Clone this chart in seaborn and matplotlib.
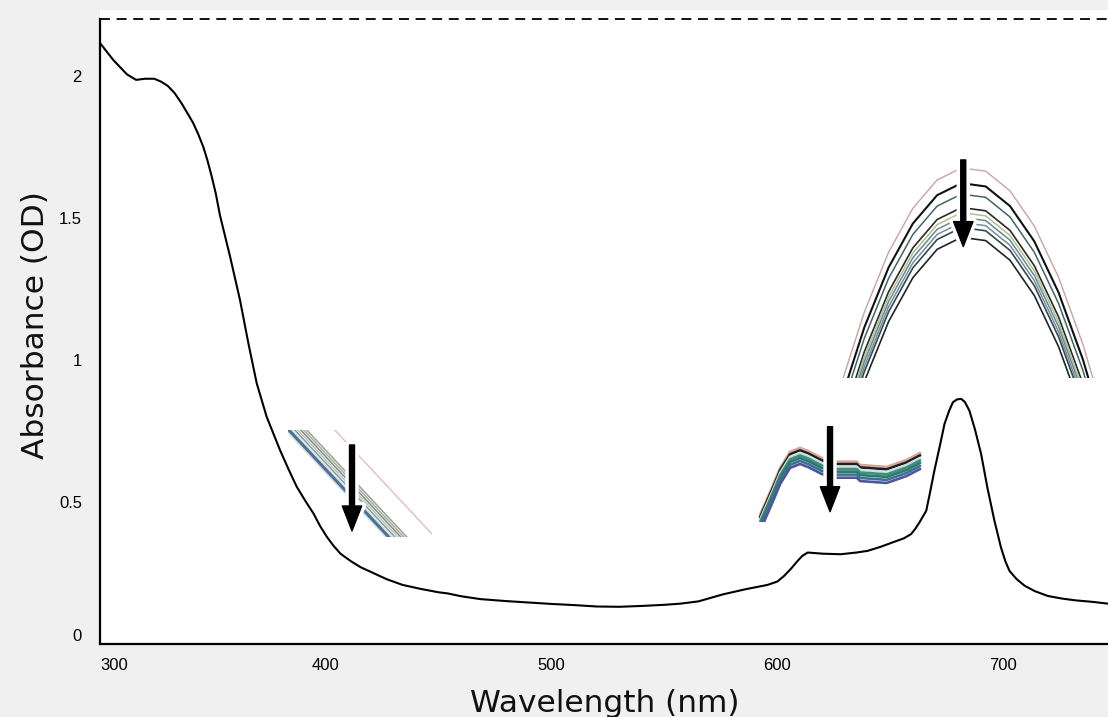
import matplotlib
matplotlib.use("Agg")
import matplotlib.pyplot as plt
import matplotlib.patheffects as pe
import seaborn as sns

# ---------------- data ----------------
wavelength = [300, 303, 306, 309, 312, 316, 320, 324, 327, 330, 333, 336, 339, 341.2, 343.5,
              345.7, 347.5, 349.5, 351.3, 353.1, 357.6, 362, 365.7, 369.4, 373.8, 379.7,
              383.5, 387.1, 391, 394.5, 397.5, 400.4, 403.5, 406.5, 411, 415.5, 421, 427, 434,
              442, 450, 454, 460, 468.5, 480, 490, 500, 510, 520, 530, 540, 550, 557, 565,
              576, 586, 595.6, 600, 603, 606, 609, 611, 613.4, 620, 628, 635, 640, 646,
              651.8, 656, 659.2, 661, 662.9, 665.9, 667.5, 669.5, 672, 674, 676, 677.7,
              679.5, 681.4, 683, 685, 687.5, 690.2, 693, 696.1, 699, 701, 702.8, 706,
              709.5, 714, 719.8, 726, 731.6, 740, 746.4]
absorbance = [2.116, 2.085, 2.055, 2.03, 2.005, 1.986, 1.99, 1.99, 1.98, 1.965, 1.94, 1.905,
              1.865, 1.835, 1.795, 1.751, 1.705, 1.645, 1.585, 1.51, 1.364, 1.211, 1.059,
              0.918, 0.80, 0.683, 0.615, 0.554, 0.503, 0.46, 0.415, 0.378, 0.345, 0.318,
              0.292, 0.27, 0.25, 0.228, 0.208, 0.194, 0.182, 0.178, 0.168,
              0.158, 0.151, 0.146, 0.141, 0.137, 0.132, 0.131, 0.134, 0.138, 0.142, 0.150,
              0.175, 0.193, 0.208, 0.22, 0.24, 0.265, 0.293, 0.31, 0.322, 0.318, 0.316,
              0.322, 0.328, 0.343, 0.36, 0.372, 0.387, 0.405, 0.428, 0.469, 0.53, 0.61,
              0.70, 0.775, 0.82, 0.851, 0.861, 0.863, 0.852, 0.822, 0.755, 0.669, 0.55,
              0.434, 0.34, 0.29, 0.257, 0.228, 0.205, 0.186, 0.169, 0.16, 0.154, 0.148, 0.142]

x_ticks = [300, 400, 500, 600, 700]
x_tick_labels = ["300", "400", "500", "600", "700"]
y_ticks = [0, 0.5, 1, 1.5, 2]
y_tick_labels = ["0", "0.5", "1", "1.5", "2"]
x_label = "Wavelength (nm)"
y_label = "Absorbance (OD)"

# zoomed inset near 410 nm (magnified spectra, decreasing over time)
inset1_wl = [398, 404, 410, 416, 422]
inset1_series = [
    [0.3587, 0.3443, 0.3299, 0.3155, 0.3011],
    [0.3475, 0.3331, 0.3187, 0.3043, 0.2899],
    [0.3463, 0.3319, 0.3175, 0.3031, 0.2887],
    [0.3451, 0.3307, 0.3163, 0.3019, 0.2875],
    [0.3439, 0.3295, 0.3151, 0.3007, 0.2863],
    [0.3427, 0.3283, 0.3139, 0.2995, 0.2851],
    [0.3403, 0.3259, 0.3115, 0.2971, 0.2827],
]

# zoomed inset 595-665 nm
inset2_wl = [592.3, 594.6, 597.7, 601.2, 605.6, 610.0, 613.6, 619.6, 625.5, 635.1, 636.6,
             648.4, 657.2, 663.2]
inset2_series = [
    [0.3055, 0.3148, 0.3273, 0.3421, 0.3546, 0.3577, 0.3553, 0.3499, 0.3470, 0.3470, 0.3444, 0.3429, 0.3483, 0.3538],
    [0.3036, 0.3129, 0.3254, 0.3402, 0.3527, 0.3558, 0.3534, 0.3480, 0.3451, 0.3451, 0.3425, 0.3410, 0.3464, 0.3519],
    [0.3016, 0.3109, 0.3234, 0.3382, 0.3507, 0.3538, 0.3514, 0.3460, 0.3431, 0.3431, 0.3405, 0.3390, 0.3444, 0.3499],
    [0.2997, 0.3090, 0.3215, 0.3363, 0.3488, 0.3519, 0.3495, 0.3441, 0.3412, 0.3412, 0.3386, 0.3371, 0.3425, 0.3480],
    [0.2977, 0.3070, 0.3195, 0.3343, 0.3468, 0.3499, 0.3475, 0.3421, 0.3392, 0.3392, 0.3366, 0.3351, 0.3405, 0.3460],
    [0.2954, 0.3047, 0.3172, 0.3320, 0.3445, 0.3476, 0.3452, 0.3398, 0.3369, 0.3369, 0.3343, 0.3328, 0.3382, 0.3437],
    [0.2930, 0.3023, 0.3148, 0.3296, 0.3421, 0.3452, 0.3428, 0.3374, 0.3345, 0.3345, 0.3319, 0.3304, 0.3358, 0.3413],
]

# zoomed inset around the 681 nm peak
inset3_wl = [656, 660, 664, 668, 672, 676, 680, 684, 688, 692, 696, 700, 704]
inset3_series = [
    [0.7921, 0.8173, 0.8381, 0.8546, 0.8667, 0.8745, 0.8778, 0.8769, 0.8715, 0.8618, 0.8477, 0.8293, 0.8066],
    [0.7879, 0.8131, 0.8339, 0.8504, 0.8625, 0.8703, 0.8736, 0.8727, 0.8673, 0.8576, 0.8435, 0.8251, 0.8024],
    [0.7849, 0.8101, 0.8309, 0.8474, 0.8595, 0.8673, 0.8706, 0.8697, 0.8643, 0.8546, 0.8405, 0.8221, 0.7994],
    [0.7812, 0.8064, 0.8272, 0.8437, 0.8558, 0.8636, 0.8669, 0.8660, 0.8606, 0.8509, 0.8368, 0.8184, 0.7957],
    [0.7798, 0.8050, 0.8258, 0.8423, 0.8544, 0.8622, 0.8655, 0.8646, 0.8592, 0.8495, 0.8354, 0.8170, 0.7943],
    [0.7785, 0.8037, 0.8245, 0.8410, 0.8531, 0.8609, 0.8642, 0.8633, 0.8579, 0.8482, 0.8341, 0.8157, 0.7930],
    [0.7771, 0.8023, 0.8231, 0.8396, 0.8517, 0.8595, 0.8628, 0.8619, 0.8565, 0.8468, 0.8327, 0.8143, 0.7916],
    [0.7757, 0.8009, 0.8217, 0.8382, 0.8503, 0.8581, 0.8614, 0.8605, 0.8551, 0.8454, 0.8313, 0.8129, 0.7902],
    [0.7730, 0.7982, 0.8190, 0.8355, 0.8476, 0.8554, 0.8587, 0.8578, 0.8524, 0.8427, 0.8286, 0.8102, 0.7875],
]

# ---------------- styling ----------------
sns.set_style("white")
plt.rcParams["font.family"] = ["DejaVu Sans"]

FIG_W, FIG_H = 1108, 717
fig = plt.figure(figsize=(FIG_W / 100, FIG_H / 100), dpi=100, facecolor="#f0f0f0")
ax = fig.add_axes([100 / FIG_W, 1 - 644 / FIG_H, 1 - 100 / FIG_W, (644 - 10) / FIG_H])
ax.set_facecolor("white")

sns.lineplot(x=wavelength, y=absorbance, ax=ax, color="black", lw=1.5,
             estimator=None, sort=False, zorder=3)

ax.set_xlim(300, 746.4)
ax.set_ylim(0, 2.232)
ax.axhline(2.2, color="black", lw=1.3, ls=(0, (5.5, 3.7)), zorder=4)

for side in ["top", "right"]:
    ax.spines[side].set_visible(False)
for side in ["left", "bottom"]:
    ax.spines[side].set_linewidth(1.6)
    ax.spines[side].set_color("black")
ax.spines["left"].set_bounds(0, 2.2)

ax.set_xticks(x_ticks)
ax.set_xticklabels(x_tick_labels)
ax.set_yticks(y_ticks)
ax.set_yticklabels(y_tick_labels)
ax.tick_params(axis="x", direction="inout", length=14, width=1.5, pad=3, labelsize=12,
               colors="black")
ax.tick_params(axis="y", direction="inout", length=20, width=1.5, pad=3, labelsize=12,
               colors="black")
tick_family = ["Liberation Sans", "DejaVu Sans"]
for lbl in ax.get_xticklabels() + ax.get_yticklabels():
    lbl.set_fontfamily(tick_family)
ax.get_xticklabels()[0].set_ha("left")
ax.get_yticklabels()[0].set_va("bottom")
ax.set_xlabel("")
ax.set_ylabel("")

fig.text(605 / FIG_W, 5.5 / FIG_H, x_label, ha="center", va="baseline",
         fontsize=22.5, color="#111111")
fig.text(36 / FIG_W, 1 - 325 / FIG_H, y_label, ha="center", va="center", rotation=90,
         fontsize=22.5, color="#111111")

# ---------------- insets (magnified views) ----------------
def make_inset(bounds):
    return ax.inset_axes(bounds, transform=ax.transData)

def finish_inset(ins, xlim, ylim):
    ins.set_xlim(*xlim)
    ins.set_ylim(*ylim)
    ins.axis("off")

# inset 1
ins1 = make_inset([383.26, 0.3768, 63.77, 0.3768])
colors1 = ["#e3bcb8", "#97a29b", "#a9ad94", "#7d8b86", "#b8c4ba", "#8c9a90", "#50708e"]
widths1 = [1.0, 1.1, 1.1, 1.1, 1.1, 1.1, 2.2]
for vals, c, w in zip(inset1_series, colors1, widths1):
    sns.lineplot(x=inset1_wl, y=vals, ax=ins1, color=c, lw=w, estimator=None, sort=False)
ins1.lines[-1].set_path_effects([pe.Stroke(linewidth=4.5, foreground="#cfe3ef"), pe.Normal()])
finish_inset(ins1, (398, 422), (0.300, 0.340))

# inset 2
ins2 = make_inset([591.4, 0.4296, 72.6, 0.2711])
colors2 = ["#d8a49c", "#1e1e1e", "#d3dfd8", "#3f8f88", "#2f7a62", "#3a7494", "#4a57a0"]
for vals, c in zip(inset2_series, colors2):
    sns.lineplot(x=inset2_wl, y=vals, ax=ins2, color=c, lw=1.9, estimator=None, sort=False)
finish_inset(ins2, (591.4, 664.0), (0.300, 0.360))

# inset 3
ins3 = make_inset([627.72, 0.9366, 112.93, 0.7676])
colors3 = ["#c9a3a3", "#111111", "#3f6666", "#2a2a2a", "#b3c08a", "#5f8f8a", "#8086a8",
           "#2f4d4a", "#1c2626"]
widths3 = [1.0, 1.5, 1.1, 1.2, 1.1, 1.1, 1.1, 1.2, 1.2]
for vals, c, w in zip(inset3_series, colors3, widths3):
    sns.lineplot(x=inset3_wl, y=vals, ax=ins3, color=c, lw=w, estimator=None, sort=False)
finish_inset(ins3, (660, 702), (0.820, 0.880))

# ---------------- arrows ----------------
arrow_style = "simple,head_length=18,head_width=14,tail_width=3.6"
for wl, a_tail, a_tip in [(411.6, 0.7007, 0.3979), (623.3, 0.7651, 0.4658), (682.3, 1.7042, 1.399)]:
    ax.annotate("", xy=(wl, a_tip), xytext=(wl, a_tail), zorder=10,
                arrowprops=dict(arrowstyle=arrow_style, mutation_scale=1, color="black",
                                shrinkA=0, shrinkB=0,
                                path_effects=[pe.Stroke(linewidth=6, foreground="white"),
                                              pe.Normal()]))

fig.savefig("out.png", dpi=100, facecolor=fig.get_facecolor())
